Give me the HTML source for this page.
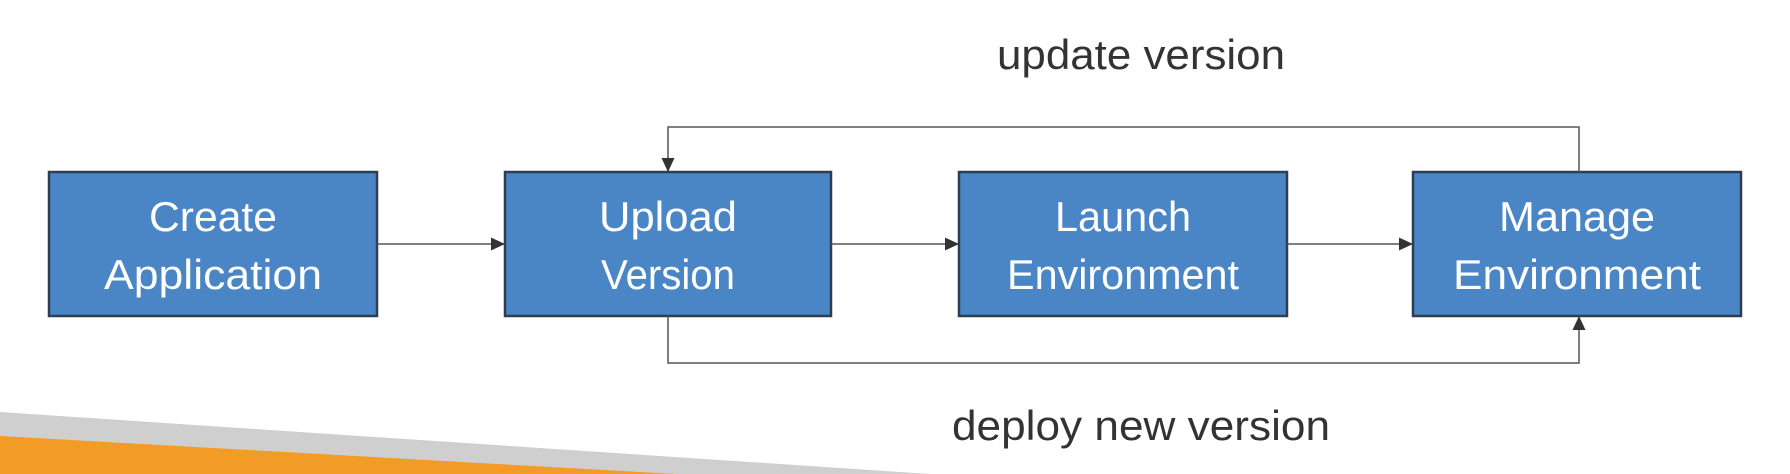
<!DOCTYPE html>
<html><head><meta charset="utf-8"><style>
html,body{margin:0;padding:0;background:#fff;}
svg{display:block;}
text{font-family:"Liberation Sans",sans-serif;}
</style></head><body>
<svg width="1790" height="474" viewBox="0 0 1790 474" xmlns="http://www.w3.org/2000/svg">
<defs>
<marker id="b" markerWidth="14" markerHeight="14" refX="13" refY="7" orient="auto" markerUnits="userSpaceOnUse"><path d="M0,0.5 L14,7 L0,13.5 z" fill="#333"/></marker></defs>
<polygon points="0,412 930,474 0,474" fill="#cfcfcf"/>
<polygon points="0,436 675,474 0,474" fill="#f29b26"/>
<g fill="#4a86c5" stroke="#2c3e50" stroke-width="2.5">
<rect x="49" y="172" width="328" height="144"/>
<rect x="505" y="172" width="326" height="144"/>
<rect x="959" y="172" width="328" height="144"/>
<rect x="1413" y="172" width="328" height="144"/>
</g>
<g stroke="#555" stroke-width="1.5" fill="none">
<line x1="377" y1="244" x2="504" y2="244" marker-end="url(#b)"/>
<line x1="831" y1="244" x2="958" y2="244" marker-end="url(#b)"/>
<line x1="1287" y1="244" x2="1412" y2="244" marker-end="url(#b)"/>
<polyline points="1579,172 1579,127 668,127 668,171" marker-end="url(#b)"/>
<polyline points="668,316 668,363 1579,363 1579,317" marker-end="url(#b)"/>
</g>
<g fill="#fff" font-size="42" text-anchor="middle">
<text x="213" y="231" textLength="128" lengthAdjust="spacingAndGlyphs">Create</text><text x="213" y="289" textLength="218" lengthAdjust="spacingAndGlyphs">Application</text>
<text x="668" y="231" textLength="138" lengthAdjust="spacingAndGlyphs">Upload</text><text x="668" y="289" textLength="134" lengthAdjust="spacingAndGlyphs">Version</text>
<text x="1123" y="231" textLength="136" lengthAdjust="spacingAndGlyphs">Launch</text><text x="1123" y="289" textLength="232" lengthAdjust="spacingAndGlyphs">Environment</text>
<text x="1577" y="231" textLength="156" lengthAdjust="spacingAndGlyphs">Manage</text><text x="1577" y="289" textLength="248" lengthAdjust="spacingAndGlyphs">Environment</text>
</g>
<g fill="#333" font-size="42" text-anchor="middle">
<text x="1141" y="69" textLength="288" lengthAdjust="spacingAndGlyphs">update version</text>
<text x="1141" y="440" textLength="378" lengthAdjust="spacingAndGlyphs">deploy new version</text>
</g>
</svg>
</body></html>
